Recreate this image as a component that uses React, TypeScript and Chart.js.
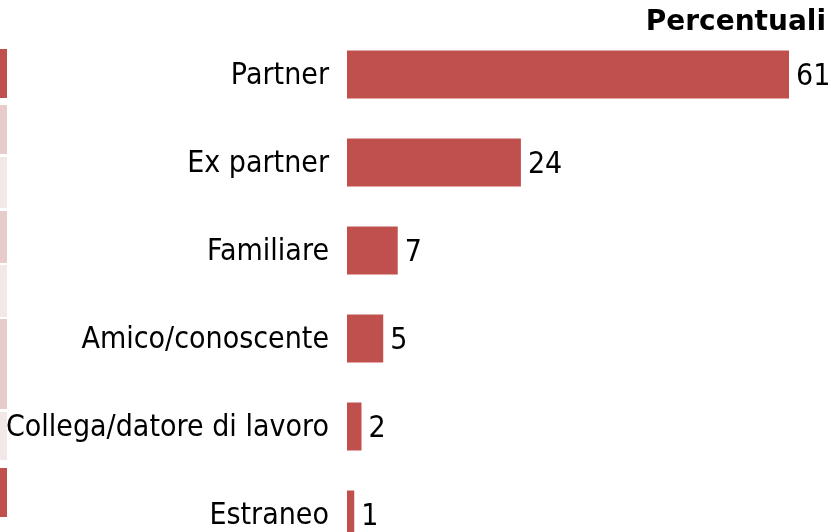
import React, { useEffect, useRef } from "react";
import { Chart, registerables } from "chart.js";

Chart.register(...registerables);

const categories = [
  "Partner",
  "Ex partner",
  "Familiare",
  "Amico/conoscente",
  "Collega/datore di lavoro",
  "Estraneo",
];
const values = [61, 24, 7, 5, 2, 1];
const titleText = "Percentuali";

const BAR_COLOR = "#C0504D";
const LABEL_FONT = "27px 'DejaVu Sans', sans-serif";
const TEXT_STRETCH = 1.1;
const TITLE_FONT = "bold 28px 'DejaVu Sans', sans-serif";

// decorative strip at the left edge (fragment of neighbouring graphic)
const stripSegments = [
  { top: 49, bottom: 98, color: "#C0504D" },
  { top: 105, bottom: 154, color: "#E8CCCC" },
  { top: 157, bottom: 208, color: "#F3E7E7" },
  { top: 211, bottom: 263, color: "#E8CCCC" },
  { top: 265, bottom: 317, color: "#F3E7E7" },
  { top: 319, bottom: 409, color: "#E8CCCC" },
  { top: 412, bottom: 460, color: "#F3E7E7" },
  { top: 468, bottom: 517, color: "#C0504D" },
];

function stretchedText(ctx: CanvasRenderingContext2D, t: string, x: number, y: number) {
  ctx.save();
  ctx.translate(x, y);
  ctx.scale(1, TEXT_STRETCH);
  ctx.fillText(t, 0, 0);
  ctx.restore();
}

const textPlugin = {
  id: "textPlugin",
  afterDraw(chart: any) {
    const ctx = chart.ctx;
    const meta = chart.getDatasetMeta(0);
    const yScale = chart.scales.y;
    ctx.save();
    ctx.fillStyle = "#000";
    ctx.textBaseline = "alphabetic";
    ctx.font = LABEL_FONT;
    // category labels
    ctx.textAlign = "right";
    chart.data.labels.forEach((lab: string, i: number) => {
      stretchedText(ctx, lab, chart.chartArea.left - 18, yScale.getPixelForTick(i) + 9.8);
    });
    // value labels
    ctx.textAlign = "left";
    meta.data.forEach((bar: any, i: number) => {
      const v = chart.data.datasets[0].data[i];
      stretchedText(ctx, String(v), bar.x + 7, bar.y + 10.5);
    });
    // title
    ctx.font = TITLE_FONT;
    ctx.textAlign = "right";
    ctx.fillText(titleText, chart.width - 5, 29.5);
    ctx.restore();
  },
};

export default function App() {
  const ref = useRef<HTMLCanvasElement>(null);

  useEffect(() => {
    document.body.style.margin = "0";
    const chart = new Chart(ref.current!, {
      type: "bar",
      data: {
        labels: categories,
        datasets: [
          {
            data: values,
            backgroundColor: BAR_COLOR,
            categoryPercentage: 1,
            barPercentage: 0.545,
          },
        ],
      },
      options: {
        indexAxis: "y",
        animation: false,
        responsive: false,
        layout: { padding: { right: 42, bottom: 11.5, top: 30.5, left: 0 } },
        plugins: {
          legend: { display: false },
          tooltip: { enabled: false },
          title: { display: false },
        },
        scales: {
          x: {
            display: false,
            min: 0,
            max: 61,
          },
          y: {
            grid: { display: false, drawTicks: false },
            border: { display: false },
            ticks: { display: false },
            afterFit(scale: any) {
              scale.width = 347;
            },
          },
        },
      },
      plugins: [textPlugin],
    });
    return () => chart.destroy();
  }, []);

  return (
    <div style={{ position: "absolute", left: 0, top: 0, width: 831, height: 570 }}>
      <canvas ref={ref} width={831} height={570} style={{ display: "block" }} />
      {stripSegments.map((s, i) => (
        <div
          key={i}
          style={{
            position: "absolute",
            left: 0,
            width: 7,
            top: s.top,
            height: s.bottom - s.top,
            background: s.color,
          }}
        />
      ))}
    </div>
  );
}
